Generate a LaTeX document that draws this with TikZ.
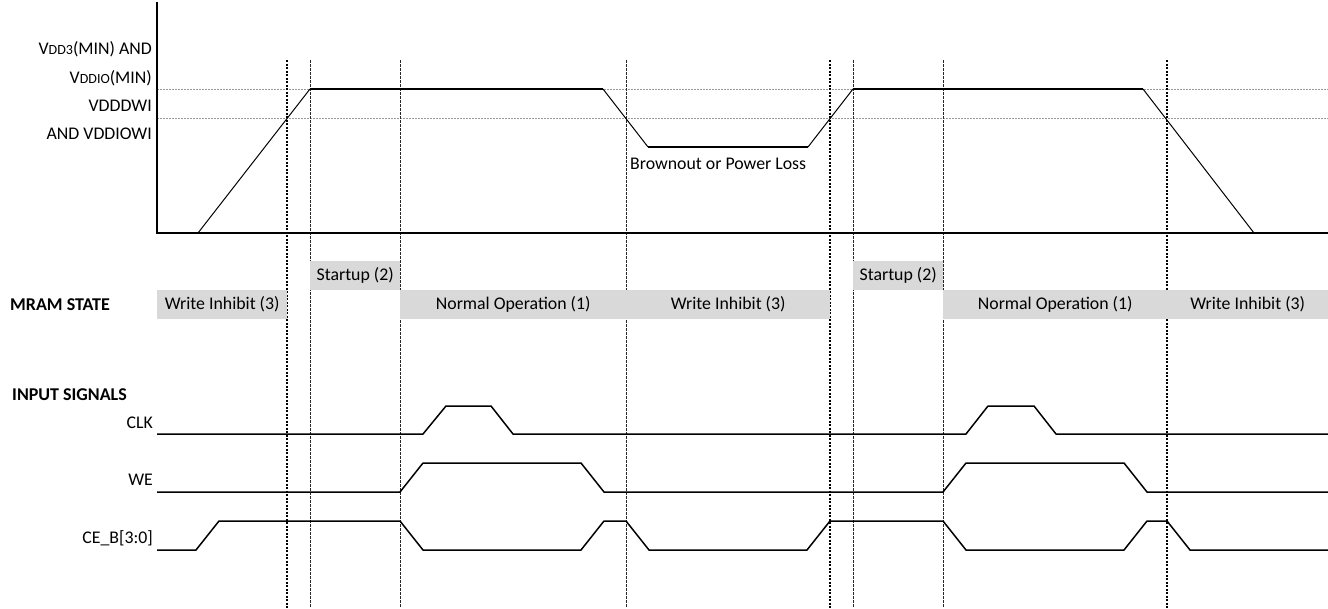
\documentclass[tikz,border=0pt]{standalone}
\usepackage{fontspec}
\setmainfont{Carlito}
\usetikzlibrary{positioning, calc}
\definecolor{stateGray}{HTML}{D9D9D9}
\newcommand{\smallcap}[1]{{\fontsize{14}{16}\selectfont #1}}
\tikzset{
    font=\fontsize{17.8}{20}\selectfont,
    % Lines
    axis/.style={line width=2pt, black},
    refLine/.style={gray!80, line width=1pt, dash pattern=on 1.5pt off 1.5pt},
    edgeMark/.style={black, line width=1.5pt, dash pattern=on 2pt off 1.5pt},
    phaseMark/.style={black!85, line width=0.6pt, dash pattern=on 3pt off 1pt},
    level/.style={line width=2.2pt, black},
    ramp/.style={line width=1pt, black},
    sig/.style={line width=1.5pt, black, line join=round},
    % Labels
    lbl/.style={inner sep=0pt, anchor=east, align=right},
    head/.style={inner sep=0pt, anchor=west, font=\fontsize{18}{20}\selectfont\bfseries},
    stateBar/.style={fill=stateGray, draw=none, inner sep=0pt, minimum height=29pt, anchor=south west}
}

\begin{document}
\begin{tikzpicture}[x=1pt, y=-1pt]

\useasboundingbox (0,0) rectangle (1328,608);

% threshold levels
\draw[refLine] (157,89) -- (1328,89);
\draw[refLine] (157,118) -- (1328,118);

% phase markers
\foreach \x in {287,830,1167}
    \draw[edgeMark] (\x,60) -- (\x,608);
\foreach \x in {310,400,626,853,943}
    \draw[phaseMark] (\x,60) -- (\x,608);

% supply axis
\draw[axis] (157,2) -- (157,233) -- (1328,233);

\node[lbl] (vdd3) at (152,49) {V\smallcap{DD3}(MIN) AND};
\node[lbl] (vddio) at (152,78) {V\smallcap{DDIO}(MIN)};
\node[lbl] (vdddwi) at (152,106) {VDDDWI};
\node[lbl] (vddiowi) at (152,134) {AND VDDIOWI};

% supply waveform
\draw[ramp] (198,233) -- (310,89);
\draw[level] (310,89) -- (603,89);
\draw[ramp] (603,89) -- (648,147);
\draw[level] (648,147) -- (808,147);
\draw[ramp] (808,147) -- (853,89);
\draw[level] (853,89) -- (1143,89);
\draw[ramp] (1143,89) -- (1254,233);

\node[inner sep=0pt, anchor=west] (brownout) at (630,164) {Brownout or Power Loss};

% MRAM states
\node[head] (mram) at (10,305) {MRAM STATE};
\node[stateBar, minimum width=130pt] (wi1) at (157,319) {Write Inhibit (3)};
\node[stateBar, minimum width=90pt] (su1) at (310,290) {Startup (2)};
\node[stateBar, minimum width=226pt] (no1) at (400,319) {Normal Operation (1)};
\node[stateBar, minimum width=204pt] (wi2) at (626,319) {Write Inhibit (3)};
\node[stateBar, minimum width=90pt] (su2) at (853,290) {Startup (2)};
\node[stateBar, minimum width=224pt] (no2) at (943,319) {Normal Operation (1)};
\node[stateBar, minimum width=161pt] (wi3) at (1167,319) {Write Inhibit (3)};

% input signals
\node[head] (inputs) at (12,395) {INPUT SIGNALS};
\node[lbl] (clk) at (153,423) {CLK};
\node[lbl] (we) at (153,480) {WE};
\node[lbl] (ceb) at (153,538) {CE\_B[3:0]};

\draw[sig] (157,434) -- (423,434) -- (446,406) -- (491,406) -- (513,434)
    -- (966,434) -- (988,406) -- (1034,406) -- (1056,434) -- (1328,434);
\draw[sig] (157,492) -- (400,492) -- (423,463) -- (581,463) -- (604,492)
    -- (943,492) -- (966,463) -- (1124,463) -- (1147,492) -- (1328,492);
\draw[sig] (157,550) -- (196,550) -- (219,521) -- (400,521) -- (423,550)
    -- (581,550) -- (604,521) -- (626,521) -- (649,550) -- (807,550)
    -- (830,521) -- (943,521) -- (966,550) -- (1124,550) -- (1147,521)
    -- (1167,521) -- (1190,550) -- (1328,550);

\end{tikzpicture}
\end{document}
